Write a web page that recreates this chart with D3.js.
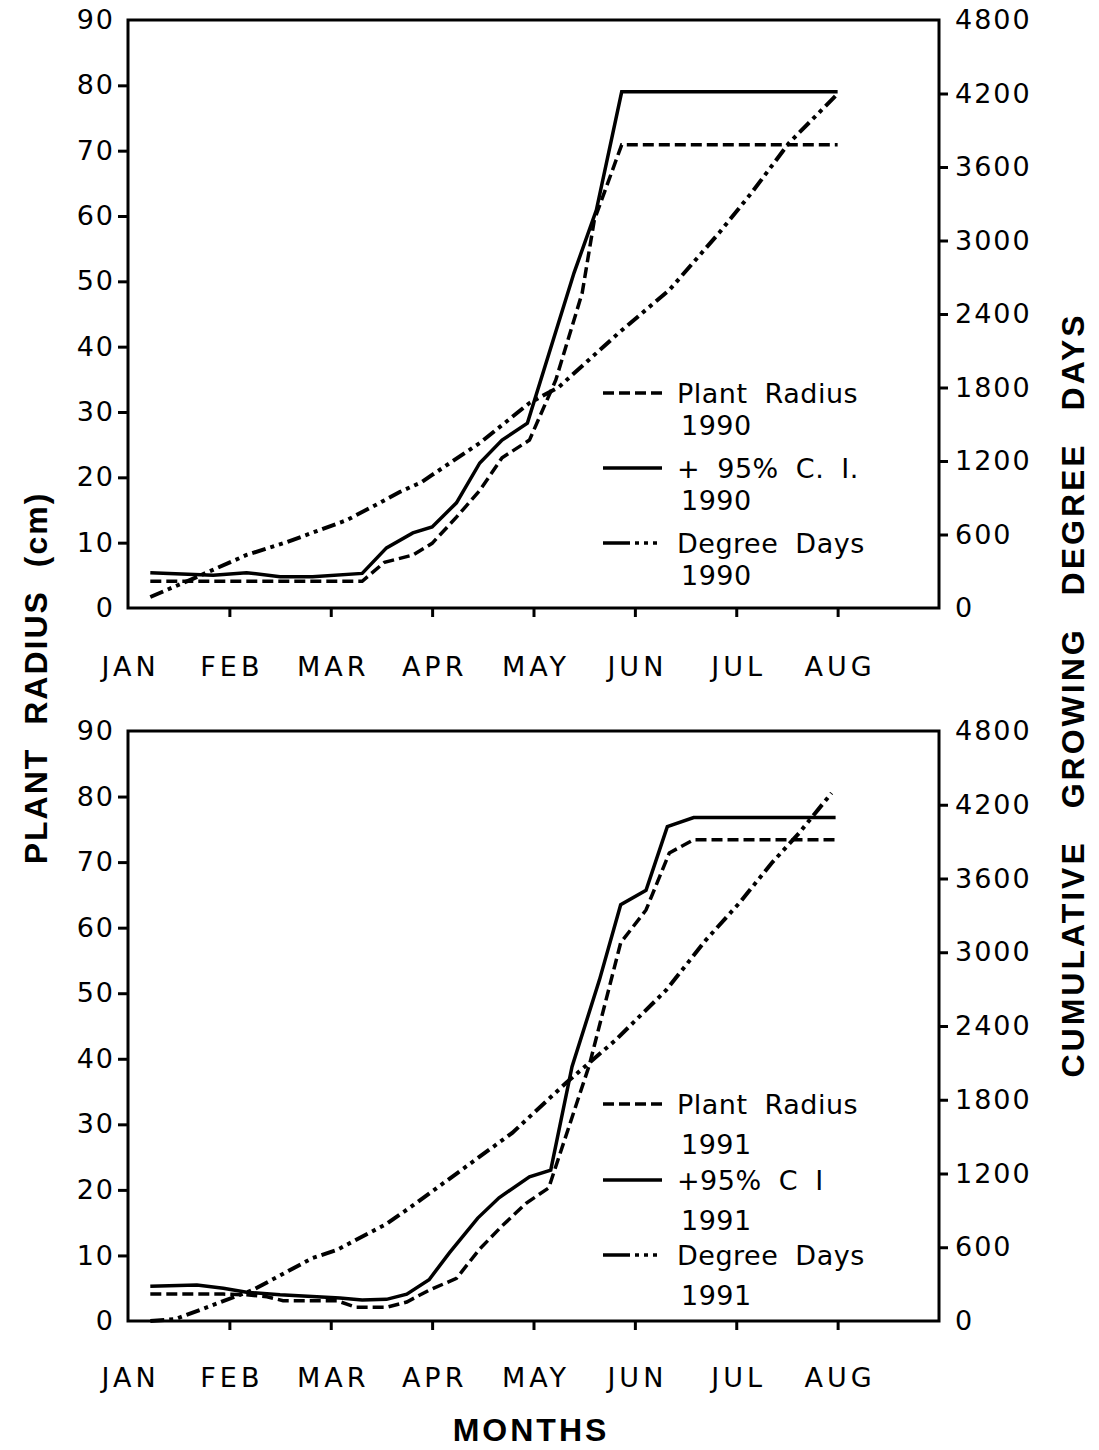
<!DOCTYPE html>
<html>
<head>
<meta charset="utf-8">
<script src="https://cdn.jsdelivr.net/npm/d3@7"></script>
<style>
  body { margin: 0; background: #fff; }
  svg { display: block; }
  .tick text { font-family: "DejaVu Sans", sans-serif; font-size: 27px; fill: #000; letter-spacing: 2px; }
  .xaxis .tick text { letter-spacing: 4px; }
  .tick line { stroke: #000; stroke-width: 3; }
  .legend text { font-family: "DejaVu Sans", sans-serif; font-size: 27px; fill: #000; word-spacing: 8px; letter-spacing: 0.5px; }
  .title { font-family: "Liberation Sans", Arial, sans-serif; font-weight: bold; font-size: 32px; fill: #000; }
</style>
</head>
<body>
<script>
/* data: x = months after JAN tick, y = cm (radius) or degree days */
var months = ["JAN", "FEB", "MAR", "APR", "MAY", "JUN", "JUL", "AUG"];
var radiusTicks = [0, 10, 20, 30, 40, 50, 60, 70, 80, 90];
var ddTicks = [0, 600, 1200, 1800, 2400, 3000, 3600, 4200, 4800];

var radius1990 = [[0.22,4.1],[2.31,4.1],[2.53,7.0],[2.81,8.1],[3.00,9.9],[3.24,13.9],[3.47,18],
  [3.69,23],[3.96,25.7],[4.22,34.9],[4.48,48.2],[4.60,59.4],[4.87,70.9],[7.0,70.9]];
var ci1990 = [[0.22,5.4],[0.84,5.0],[1.17,5.4],[1.50,4.8],[1.82,4.8],[2.31,5.3],[2.55,9.2],[2.81,11.5],
  [3.00,12.4],[3.24,16.1],[3.47,22.2],[3.69,25.7],[3.94,28.3],[4.40,51.3],[4.62,60.9],[4.87,79],[7.0,79]];
var dd1990 = [[0.22,90],[0.61,228],[1.17,433],[1.57,539],[2.16,718],[2.48,857],[2.68,947],[2.90,1029],
  [3.00,1086],[3.47,1347],[3.96,1673],[4.25,1804],[4.84,2245],[5.34,2596],[5.83,3061],[6.15,3388],
  [6.52,3796],[6.98,4180]];

var radius1991 = [[0.22,4.1],[0.94,4.1],[1.17,4.0],[1.37,3.7],[1.53,3.1],[2.06,3.1],[2.25,2.1],[2.55,2.1],
  [2.75,2.9],[2.97,4.7],[3.24,6.5],[3.47,11],[3.69,14.5],[3.93,18],[4.15,20.3],[4.55,39],[4.86,57.7],
  [5.11,62.7],[5.34,71.4],[5.58,73.4],[7.0,73.4]];
var ci1991 = [[0.22,5.3],[0.68,5.5],[0.94,5.0],[1.17,4.4],[1.50,4.0],[2.09,3.5],[2.31,3.2],[2.55,3.3],
  [2.75,4.1],[2.97,6.3],[3.17,10.4],[3.45,15.7],[3.66,18.8],[3.96,22],[4.17,23],[4.38,38.8],[4.65,52],
  [4.86,63.5],[5.11,65.7],[5.32,75.4],[5.58,76.8],[6.98,76.8]];
var dd1991 = [[0.22,0],[0.47,16],[0.71,90],[1.23,252],[1.82,512],[2.06,578],[2.55,790],[2.81,940],
  [3.79,1530],[4.32,1936],[4.81,2286],[5.31,2693],[5.70,3099],[6.03,3400],[6.35,3726],[6.62,3970],
  [6.94,4295]];

var legend1990 = ["Plant Radius", "+ 95% C. I.", "Degree Days"];
var legend1991 = ["Plant Radius", "+95% C I", "Degree Days"];

/* layout */
var WIDTH = 1099, HEIGHT = 1450;
var LEFT = 128, RIGHT = 939;
var DASH = "11,5", DASHDOT = "14,5,4,5,4,5";

var panels = [
  { top: 20, bottom: 608, radius: radius1990, ci: ci1990, dd: dd1990, year: "1990", labels: legend1990,
    legendY: [393, 468, 543], yearGap: 32, pad: 40 },
  { top: 731, bottom: 1321, radius: radius1991, ci: ci1991, dd: dd1991, year: "1991", labels: legend1991,
    legendY: [1104, 1180, 1255], yearGap: 40, pad: 38 }
];

var svg = d3.select("body").append("svg")
    .attr("width", WIDTH)
    .attr("height", HEIGHT);

var x = d3.scaleLinear().domain([0, 8]).range([LEFT, RIGHT]);

panels.forEach(function(p) {
  var y = d3.scaleLinear().domain([0, 90]).range([p.bottom, p.top]);
  var yd = d3.scaleLinear().domain([0, 4800]).range([p.bottom, p.top]);
  var g = svg.append("g");

  // axes
  var ya = g.append("g").attr("transform", "translate(" + LEFT + ",0)")
      .call(d3.axisLeft(y).tickValues(radiusTicks).tickSize(10).tickPadding(3));
  var yr = g.append("g").attr("transform", "translate(" + RIGHT + ",0)")
      .call(d3.axisRight(yd).tickValues(ddTicks).tickSize(9).tickPadding(7)
        .tickFormat(function(d) { return String(d); }));
  var xa = g.append("g").attr("class", "xaxis").attr("transform", "translate(0," + p.bottom + ")")
      .call(d3.axisBottom(x).tickValues(d3.range(months.length)).tickSize(9).tickPadding(p.pad)
        .tickFormat(function(d) { return months[d]; }));
  [ya, yr, xa].forEach(function(a) { a.select(".domain").remove(); });
  ya.selectAll(".tick line").filter(function(d) { return d === 0 || d === 90; }).remove();
  yr.selectAll(".tick line").filter(function(d) { return d === 0 || d === 4800; }).remove();
  xa.selectAll(".tick line").filter(function(d) { return d === 0; }).remove();
  xa.selectAll(".tick text").attr("dx", "2px");

  // frame
  g.append("rect")
      .attr("x", LEFT).attr("y", p.top)
      .attr("width", RIGHT - LEFT).attr("height", p.bottom - p.top)
      .attr("fill", "none").attr("stroke", "#000").attr("stroke-width", 3);

  var line = d3.line().x(function(d) { return x(d[0]); }).y(function(d) { return y(d[1]); });
  var lineDD = d3.line().x(function(d) { return x(d[0]); }).y(function(d) { return yd(d[1]); });

  g.append("path").datum(p.radius).attr("d", line)
      .attr("fill", "none").attr("stroke", "#000").attr("stroke-width", 3.5).attr("stroke-dasharray", DASH);
  g.append("path").datum(p.ci).attr("d", line)
      .attr("fill", "none").attr("stroke", "#000").attr("stroke-width", 3.5);
  g.append("path").datum(p.dd).attr("d", lineDD)
      .attr("fill", "none").attr("stroke", "#000").attr("stroke-width", 4).attr("stroke-dasharray", DASHDOT);

  // legend
  var lg = g.append("g").attr("class", "legend");
  var samples = [DASH, null, "27,5,4,5,4,5,4"];
  p.labels.forEach(function(label, i) {
    var ly = p.legendY[i];
    lg.append("line").attr("x1", 603).attr("x2", 662).attr("y1", ly).attr("y2", ly)
        .attr("stroke", "#000").attr("stroke-width", 3.5)
        .attr("stroke-dasharray", samples[i]);
    lg.append("text").attr("x", 677).attr("y", ly).attr("dy", "0.36em").text(label);
    lg.append("text").attr("x", 681).attr("y", ly + p.yearGap).attr("dy", "0.36em").text(p.year);
  });
});

// axis titles
svg.append("text").attr("class", "title")
    .attr("transform", "translate(47,678) rotate(-90)")
    .attr("text-anchor", "middle")
    .style("letter-spacing", "2px").style("word-spacing", "12px")
    .text("PLANT RADIUS (cm)");
svg.append("text").attr("class", "title")
    .attr("transform", "translate(1084,695) rotate(-90)")
    .attr("text-anchor", "middle")
    .style("letter-spacing", "3px").style("word-spacing", "20px")
    .text("CUMULATIVE GROWING DEGREE DAYS");
svg.append("text").attr("class", "title")
    .attr("x", 531).attr("y", 1441)
    .attr("text-anchor", "middle")
    .style("font-size", "32px").style("letter-spacing", "3px")
    .text("MONTHS");
</script>
</body>
</html>
